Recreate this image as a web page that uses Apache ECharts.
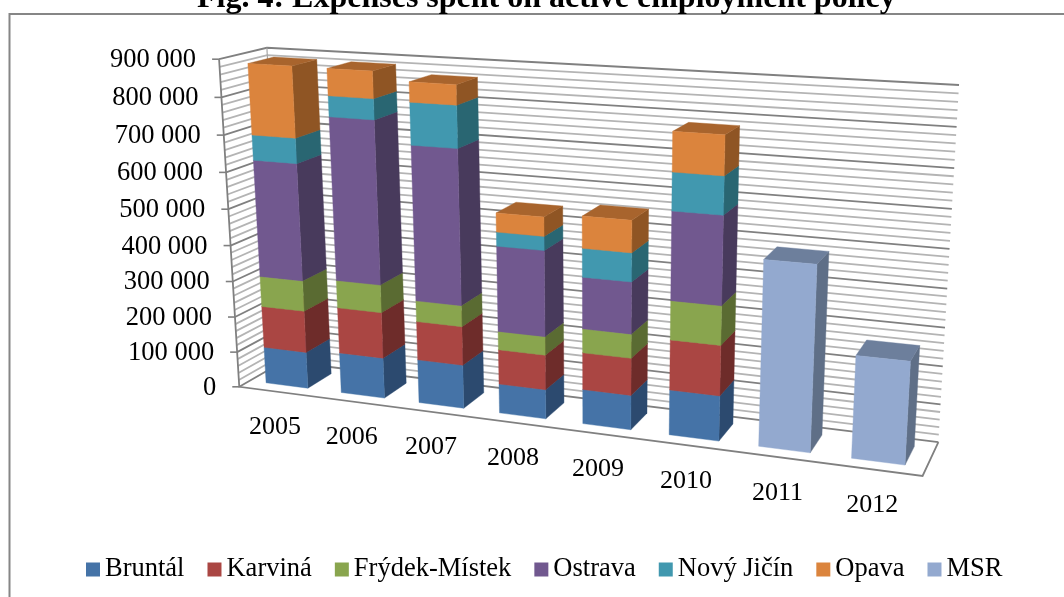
<!DOCTYPE html>
<html>
<head>
  <meta charset="utf-8">
  <title>Fig. 4</title>
  <script src="https://cdn.jsdelivr.net/npm/echarts@6/dist/echarts.min.js"></script>
  <style>html,body{margin:0;padding:0;background:#fff}</style>
</head>
<body>
  <div id="main" style="width:1064px;height:597px;"></div>
  <script type="text/javascript">
    var years = ['2005', '2006', '2007', '2008', '2009', '2010', '2011', '2012'];
    var bruntal = [103000, 113000, 120000, 80000, 93000, 120000, null, null];
    var karvina = [117000, 127000, 106000, 94000, 99000, 132000, null, null];
    var frydek = [85000, 76000, 57000, 50000, 64000, 102000, null, null];
    var ostrava = [321000, 441000, 415000, 228000, 136000, 228000, null, null];
    var novyJicin = [68000, 55000, 111000, 37000, 75000, 97000, null, null];
    var opava = [190000, 71000, 52000, 50000, 83000, 100000, null, null];
    var msr = [null, null, null, null, null, null, 481000, 264000];
    var valueTicks = [0, 100000, 200000, 300000, 400000, 500000, 600000, 700000, 800000, 900000];
    var minorStep = 20000;

    var seriesDefs = [
      { name: 'Bruntál', values: bruntal, front: '#4573a7', side: '#2c4a6f', top: '#37597f' },
      { name: 'Karviná', values: karvina, front: '#aa4643', side: '#6e2c2a', top: '#843633' },
      { name: 'Frýdek-Místek', values: frydek, front: '#89a54e', side: '#5a6b32', top: '#6b813c' },
      { name: 'Ostrava', values: ostrava, front: '#71588f', side: '#483a5c', top: '#58456f' },
      { name: 'Nový Jičín', values: novyJicin, front: '#4198af', side: '#296672', top: '#327687' },
      { name: 'Opava', values: opava, front: '#db843d', side: '#8f5524', top: '#a8642d' },
      { name: 'MSR', values: msr, front: '#93a9cf', side: '#5f6f87', top: '#6d7f9c' }
    ];

    // box corners on the picture: [u, v, depth, x, y]
    var corners = [
      [0, 0, 0, 239, 386],
      [0, 1, 0, 219, 60],
      [0, 0, 1, 284, 362],
      [0, 1, 1, 267, 47],
      [1, 0, 1, 938, 442],
      [1, 1, 1, 959, 85],
      [1, 0, 0, 923, 476]
    ];

    // hidden grid, only used for the axis scales
    var gridRect = { left: 100, top: 100, width: 800, height: 400 };
    var barRatio = 0.56;
    var barFront = 0.23;
    var barBack = 0.78;

    // least squares for the camera matrix
    function solveCamera(pts) {
      var A = [], b = [];
      pts.forEach(function (p) {
        A.push([p[0], p[1], p[2], 1, 0, 0, 0, 0, -p[3] * p[0], -p[3] * p[1], -p[3] * p[2]]);
        b.push(p[3]);
        A.push([0, 0, 0, 0, p[0], p[1], p[2], 1, -p[4] * p[0], -p[4] * p[1], -p[4] * p[2]]);
        b.push(p[4]);
      });
      var n = 11, M = [];
      for (var i = 0; i < n; i++) {
        M[i] = [];
        for (var j = 0; j < n; j++) {
          var s = 0;
          for (var k = 0; k < A.length; k++) s += A[k][i] * A[k][j];
          M[i][j] = s;
        }
        var t = 0;
        for (var k2 = 0; k2 < A.length; k2++) t += A[k2][i] * b[k2];
        M[i][n] = t;
      }
      for (var c = 0; c < n; c++) {
        var piv = c;
        for (var r = c + 1; r < n; r++) if (Math.abs(M[r][c]) > Math.abs(M[piv][c])) piv = r;
        var tmp = M[c]; M[c] = M[piv]; M[piv] = tmp;
        for (var r2 = 0; r2 < n; r2++) {
          if (r2 === c) continue;
          var f = M[r2][c] / M[c][c];
          for (var q = c; q <= n; q++) M[r2][q] -= f * M[c][q];
        }
      }
      var x = [];
      for (var v = 0; v < n; v++) x[v] = M[v][n] / M[v][v];
      return x;
    }
    var cam = solveCamera(corners);

    function project(u, v, d) {
      var w = cam[8] * u + cam[9] * v + cam[10] * d + 1;
      return [
        (cam[0] * u + cam[1] * v + cam[2] * d + cam[3]) / w,
        (cam[4] * u + cam[5] * v + cam[6] * d + cam[7]) / w
      ];
    }
    function toU(px) { return (px - gridRect.left) / gridRect.width; }
    function toV(py) { return (gridRect.top + gridRect.height - py) / gridRect.height; }

    function line(points, color, width) {
      return {
        type: 'polyline',
        shape: { points: points },
        style: { stroke: color, lineWidth: width, fill: 'none' }
      };
    }
    function face(points, color) {
      return {
        type: 'polygon',
        shape: { points: points },
        style: { fill: color, stroke: color, lineWidth: 0.4 }
      };
    }

    // wall lines, one per value
    var gridValues = [];
    for (var g = 0; g <= 900000; g += minorStep) gridValues.push([g]);

    function renderGridLine(params, api) {
      var value = api.value(0);
      var v = toV(api.coord([0, value])[1]);
      var major = value % 100000 === 0;
      var color = major ? '#808080' : '#b4b4b4';
      var a = project(0, v, 0), b = project(0, v, 1), c = project(1, v, 1);
      var kids = [line([a, b, c], color, 1.8)];
      if (major) kids.push(line([[a[0] - 7, a[1]], a], '#808080', 1.6));
      return { type: 'group', children: kids };
    }

    function renderFrame() {
      return {
        type: 'group',
        children: [
          line([project(0, 1, 0), project(0, 0, 0), project(1, 0, 0), project(1, 0, 1)], '#808080', 1.8),
          line([project(0, 0, 1), project(0, 1, 1)], '#a6a6a6', 1.2)
        ]
      };
    }

    function renderValueLabel(params, api) {
      var value = api.value(0);
      var p = project(0, toV(api.coord([0, value])[1]), 0);
      return {
        type: 'text',
        style: {
          text: valueTicks[params.dataIndex].toLocaleString('en-US').replace(/,/g, ' '),
          x: p[0] - 23, y: p[1] + 1, align: 'right', verticalAlign: 'middle',
          font: '26.5px "Liberation Serif"', fill: '#000'
        }
      };
    }

    function renderYearLabel(params, api) {
      var idx = api.value(0);
      var p = project(toU(api.coord([idx, 0])[0]), 0, 0);
      return {
        type: 'text',
        style: {
          text: years[idx], x: p[0] - 1.5, y: p[1] + 35.5, align: 'center', verticalAlign: 'middle',
          font: '26px "Liberation Serif"', fill: '#000'
        }
      };
    }

    function makeBarRender(def) {
      return function (params, api) {
        var idx = api.value(0);
        var base = api.value(1);
        var end = api.value(2);
        var pos = api.coord([idx, base]);
        var half = api.size([1, 0])[0] * barRatio / 2 / gridRect.width;
        var u = toU(pos[0]);
        var v0 = toV(pos[1]);
        var v1 = toV(api.coord([idx, end])[1]);
        var fl0 = project(u - half, v0, barFront), fr0 = project(u + half, v0, barFront);
        var fl1 = project(u - half, v1, barFront), fr1 = project(u + half, v1, barFront);
        var br0 = project(u + half, v0, barBack), br1 = project(u + half, v1, barBack);
        var bl1 = project(u - half, v1, barBack);
        return {
          type: 'group',
          children: [
            face([fr0, br0, br1, fr1], def.side),
            face([fl1, fr1, br1, bl1], def.top),
            face([fl0, fr0, fr1, fl1], def.front)
          ]
        };
      };
    }

    var running = years.map(function () { return 0; });
    var barSeries = seriesDefs.map(function (def) {
      var rows = [];
      def.values.forEach(function (val, i) {
        if (val === null) return;
        rows.push([i, running[i], running[i] + val]);
        running[i] += val;
      });
      return {
        name: def.name,
        type: 'custom',
        coordinateSystem: 'cartesian2d',
        itemStyle: { color: def.front },
        encode: { x: 0, y: [1, 2] },
        renderItem: makeBarRender(def),
        data: rows,
        silent: true
      };
    });

    var myChart = echarts.init(document.getElementById('main'));
    var option = {
      animation: false,
      title: {
        text: 'Fig. 4: Expenses spent on active employment policy',
        left: 192,
        top: -22,
        textStyle: { fontFamily: 'Liberation Serif', fontSize: 32, fontWeight: 'bold', color: '#000' }
      },
      legend: {
        left: 81,
        top: 551,
        itemWidth: 14,
        itemHeight: 14,
        itemGap: 23,
        icon: 'rect',
        data: seriesDefs.map(function (d) { return d.name; }),
        textStyle: { fontFamily: 'Liberation Serif', fontSize: 26.5, color: '#000' }
      },
      grid: gridRect,
      xAxis: { type: 'category', data: years, show: false },
      yAxis: { type: 'value', min: 0, max: 900000, interval: 100000, show: false },
      graphic: [{
        type: 'rect',
        silent: true,
        shape: { x: 9.5, y: 14, width: 1200, height: 800 },
        style: { fill: 'none', stroke: '#868686', lineWidth: 2 }
      }],
      series: [
        { type: 'custom', coordinateSystem: 'cartesian2d', encode: { y: 0 }, renderItem: renderGridLine, data: gridValues, silent: true, clip: false },
        { type: 'custom', coordinateSystem: 'cartesian2d', renderItem: renderFrame, data: [[0]], silent: true },
        { type: 'custom', coordinateSystem: 'cartesian2d', encode: { y: 0 }, renderItem: renderValueLabel, data: valueTicks.map(function (t) { return [t]; }), silent: true },
        { type: 'custom', coordinateSystem: 'cartesian2d', encode: { x: 0 }, renderItem: renderYearLabel, data: years.map(function (y, i) { return [i]; }), silent: true }
      ].concat(barSeries)
    };
    myChart.setOption(option);
  </script>
</body>
</html>
